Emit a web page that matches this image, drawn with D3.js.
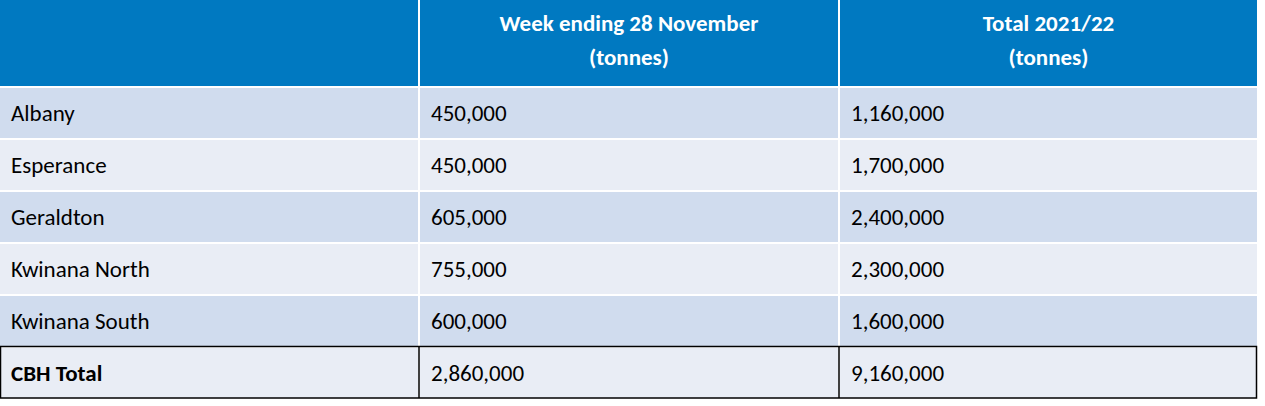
<!DOCTYPE html>
<html><head><meta charset="utf-8">
<script src="https://cdn.jsdelivr.net/npm/d3@7"></script>
<style>body{margin:0;background:#fff}</style></head>
<body><svg id="c" width="1265" height="406"></svg>
<script>
const headers = ["", "Week ending 28 November\n(tonnes)", "Total 2021/22\n(tonnes)"];
const ports = ["Albany","Esperance","Geraldton","Kwinana North","Kwinana South","CBH Total"];
const weekValues = [450000,450000,605000,755000,600000,2860000];
const totalValues = [1160000,1700000,2400000,2300000,1600000,9160000];

const svg = d3.select("#c");
const font = "Calibri, Carlito, 'Open Sans', sans-serif";
const fmt = d3.format(",");
const x = d3.scaleOrdinal().domain([0,1,2]).range([0,420,840]);
const colW = [418,418,417];
const rowY = d3.scaleBand().domain(d3.range(ports.length)).range([86,398]).paddingInner(0);
const hdrH = 86;

// header
svg.selectAll("rect.h").data(headers).join("rect")
  .attr("x",(d,i)=>x(i)).attr("y",0).attr("width",(d,i)=>colW[i]).attr("height",hdrH)
  .attr("fill","#0079C1");
headers.forEach((h,i)=>{
  const lines = h.split("\n");
  lines.forEach((l,j)=>{
    svg.append("text").attr("x",x(i)+colW[i]/2).attr("y",31+j*34)
      .attr("text-anchor","middle").attr("font-family",font).attr("font-size",23)
      .attr("font-weight","bold").attr("fill","#fff").text(l);
  });
});

const rows = ports.map((p,i)=>[p, fmt(weekValues[i]), fmt(totalValues[i])]);
rows.forEach((r,ri)=>{
  const y0 = rowY(ri)+2, h = rowY.bandwidth()-2;
  const fill = ri===5 ? "#E9EDF5" : (ri%2===0 ? "#D0DCEE" : "#E9EDF5");
  r.forEach((v,ci)=>{
    svg.append("rect").attr("x",x(ci)).attr("y",y0).attr("width",colW[ci]).attr("height",h).attr("fill",fill);
    svg.append("text").attr("x",x(ci)+11).attr("y",y0+h/2+8)
      .attr("font-family",font).attr("font-size",23)
      .attr("font-weight",(ri===5&&ci===0)?"bold":"normal").attr("fill","#000").text(v);
  });
});
// total row borders
const ty = rowY(5)+1, th = rowY.bandwidth();
svg.append("rect").attr("x",0.5).attr("y",ty-0.5).attr("width",1256).attr("height",th-0.5)
  .attr("fill","none").attr("stroke","#000").attr("stroke-width",1.5);
[1,2].forEach(i=>svg.append("line").attr("x1",x(i)-1).attr("x2",x(i)-1).attr("y1",ty).attr("y2",ty+th-1).attr("stroke","#000").attr("stroke-width",1.5));
</script></body></html>
